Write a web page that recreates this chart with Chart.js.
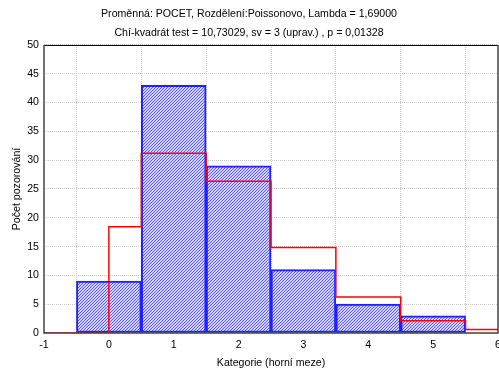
<!DOCTYPE html>
<html>
<head>
<meta charset="utf-8">
<script src="https://cdn.jsdelivr.net/npm/chart.js@4"></script>
<style>
html, body { margin: 0; padding: 0; background: #fff; }
</style>
</head>
<body>
<canvas id="chart" width="499" height="369"></canvas>
<script>
// histogram categories (upper bounds) and observed counts
const categories = [0, 1, 2, 3, 4, 5];
const observed = [9, 43, 29, 11, 5, 3];

// expected Poisson frequencies as a step line (breakpoints + level of the following segment)
const expectedX = [-1, 0, 0.5, 1.5, 2.5, 3.5, 4.5, 5.5, 6];
const expected = [0, 18.45, 31.18, 26.35, 14.84, 6.27, 2.12, 0.6, 0.6];

const titleLines = [
    'Proměnná: POCET, Rozdělení:Poissonovo, Lambda = 1,69000',
    'Chí-kvadrát test = 10,73029, sv = 3 (uprav.) , p = 0,01328'
];
const xLabel = 'Kategorie (horní meze)';
const yLabel = 'Počet pozorování';

// blue diagonal hatch like the Statistica fill
function hatch() {
    let c = document.createElement('canvas');
    c.width = 3; c.height = 3;
    let ctx = c.getContext('2d');
    ctx.fillStyle = '#d4d4ff';
    ctx.fillRect(0, 0, 3, 3);
    ctx.fillStyle = '#5a5aff';
    for (let i = 0; i < 3; i++) {
        ctx.fillRect(i, 2 - i, 1, 1);
    }
    return ctx.createPattern(c, 'repeat');
}

const frame = {
    id: 'frame',
    afterDatasetsDraw(chart) {
        const a = chart.chartArea, ctx = chart.ctx;
        ctx.save();
        ctx.lineWidth = 1;
        ctx.strokeStyle = '#000';
        ctx.beginPath();
        ctx.moveTo(a.left, a.top + 0.5);
        ctx.lineTo(a.right, a.top + 0.5);
        ctx.stroke();
        ctx.strokeStyle = '#444';
        ctx.lineWidth = 1.5;
        ctx.beginPath();
        ctx.moveTo(a.left, a.top);
        ctx.lineTo(a.left, a.bottom);
        ctx.lineTo(a.right, a.bottom);
        ctx.lineTo(a.right, a.top);
        ctx.stroke();
        ctx.restore();
    }
};

const font = { family: '"Liberation Sans", Arial, sans-serif', size: 10.6 };

new Chart(document.getElementById('chart'), {
    type: 'bar',
    data: {
        datasets: [{
            type: 'line',
            data: expectedX.map((x, i) => ({ x: x, y: expected[i] })),
            borderColor: '#ff0000',
            borderWidth: 1.5,
            stepped: true,
            pointRadius: 0,
            fill: false,
            order: 0
        }, {
            type: 'bar',
            data: categories.map((c, i) => ({ x: c, y: observed[i] })),
            backgroundColor: hatch(),
            borderColor: '#2020ff',
            borderWidth: 2,
            borderSkipped: false,
            barPercentage: 1,
            categoryPercentage: 1,
            order: 1
        }]
    },
    options: {
        responsive: false,
        animation: false,
        layout: { padding: { left: 0, right: 1, top: 0, bottom: 0 } },
        plugins: {
            legend: { display: false },
            tooltip: { enabled: false },
            title: {
                display: true,
                text: titleLines,
                color: '#000',
                font: { family: font.family, size: 10.6, weight: 'normal', lineHeight: 1.79 },
                padding: { top: 5, bottom: 2 }
            }
        },
        scales: {
            x: {
                type: 'linear',
                offset: false,
                min: -1,
                max: 6,
                ticks: { stepSize: 1, color: '#000', font: font, padding: 6, maxRotation: 0 },
                grid: { color: '#c8c8c8', drawTicks: false, tickLength: 0 },
                border: { display: false, dash: [1, 1] },
                title: { display: true, text: xLabel, color: '#000', font: font, padding: 0 },
                afterFit(s) { s.height = 36; s.paddingLeft = 0; s.paddingRight = 0; }
            },
            y: {
                min: 0,
                max: 50,
                ticks: { stepSize: 5, color: '#000', font: font, padding: 5 },
                grid: { color: '#c8c8c8', drawTicks: false, tickLength: 0 },
                border: { display: false, dash: [1, 1] },
                title: { display: true, text: yLabel, color: '#000', font: font, padding: { top: 11, bottom: 0 } },
                afterFit(s) { s.width = 44; s.paddingTop = 0; s.paddingBottom = 0; }
            }
        }
    },
    plugins: [frame]
});
</script>
</body>
</html>
